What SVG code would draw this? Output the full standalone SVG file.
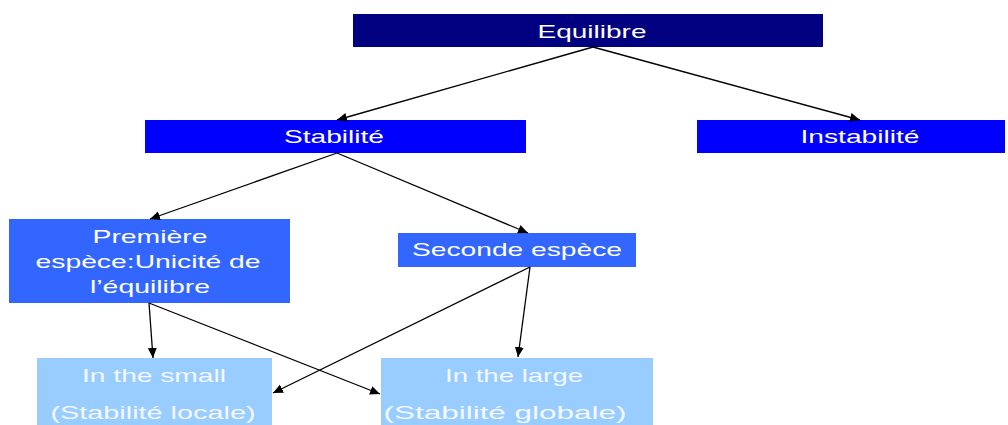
<svg xmlns="http://www.w3.org/2000/svg" width="1008" height="425" viewBox="0 0 1008 425">
<defs>
<marker id="ah" markerUnits="userSpaceOnUse" markerWidth="11" markerHeight="10" refX="10" refY="4.5" orient="auto">
<path d="M0,0 L10,4.5 L0,9 Z" fill="#000"/>
</marker>
<style>
.t{font-family:"Liberation Sans",Arial,sans-serif;font-size:19px;fill:#fff;text-anchor:middle}
.tl{font-family:"Liberation Sans",Arial,sans-serif;font-size:19px;fill:#f4f8ff;text-anchor:middle}
.c line{stroke:#000;stroke-width:1.3;marker-end:url(#ah)}
</style>
</defs>
<rect width="1008" height="425" fill="#fff"/>
<g id="equilibre">
<rect x="353" y="14" width="470" height="33" fill="#000080"/>
<text class="t" x="592" y="38" textLength="109" lengthAdjust="spacingAndGlyphs">Equilibre</text>
</g>
<g id="stabilite">
<rect x="145" y="120" width="381" height="33" fill="#0000ff"/>
<text class="t" x="334" y="143" textLength="100" lengthAdjust="spacingAndGlyphs">Stabilité</text>
</g>
<g id="instabilite">
<rect x="697" y="120" width="308" height="33" fill="#0000ff"/>
<text class="t" x="860" y="143" textLength="119" lengthAdjust="spacingAndGlyphs">Instabilité</text>
</g>
<g id="premiere">
<rect x="9" y="219" width="281" height="84" fill="#3366ff"/>
<text class="t" x="150" y="243" textLength="115" lengthAdjust="spacingAndGlyphs">Première</text>
<text class="t" x="148" y="268" textLength="225" lengthAdjust="spacingAndGlyphs">espèce:Unicité de</text>
<text class="t" x="150" y="293" textLength="120" lengthAdjust="spacingAndGlyphs">l’équilibre</text>
</g>
<g id="seconde">
<rect x="398" y="233" width="238" height="34" fill="#3366ff"/>
<text class="t" x="517" y="256" textLength="210" lengthAdjust="spacingAndGlyphs">Seconde espèce</text>
</g>
<g id="small">
<rect x="37" y="358" width="235" height="67" fill="#99ccff"/>
<text class="tl" x="154" y="382" textLength="144" lengthAdjust="spacingAndGlyphs">In the small</text>
<text class="tl" x="153" y="419" textLength="205" lengthAdjust="spacingAndGlyphs">(Stabilité locale)</text>
</g>
<g id="large">
<rect x="381" y="358" width="272" height="67" fill="#99ccff"/>
<text class="tl" x="514" y="382" textLength="138" lengthAdjust="spacingAndGlyphs">In the large</text>
<text class="tl" x="505" y="419" textLength="243" lengthAdjust="spacingAndGlyphs">(Stabilité globale)</text>
</g>
<g id="connectors" class="c">
<line x1="593" y1="47" x2="337" y2="120"/>
<line x1="593" y1="47" x2="860" y2="120"/>
<line x1="337" y1="153" x2="150" y2="219"/>
<line x1="337" y1="153" x2="528" y2="233"/>
<line x1="149" y1="303" x2="153" y2="358"/>
<line x1="149" y1="303" x2="380" y2="394"/>
<line x1="530" y1="267" x2="273" y2="393"/>
<line x1="530" y1="267" x2="518" y2="357"/>
</g>
</svg>
